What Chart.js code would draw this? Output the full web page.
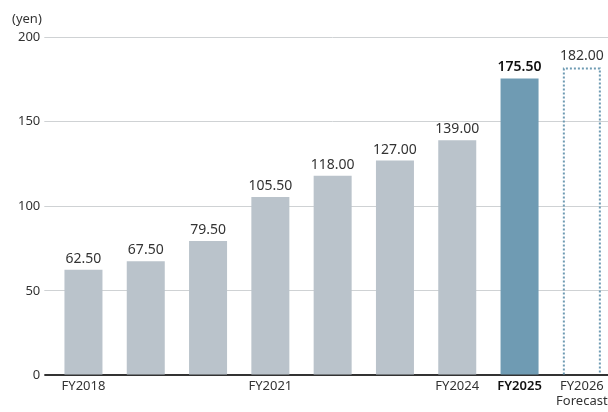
<!DOCTYPE html>
<html>
<head>
<meta charset="utf-8">
<script src="https://cdn.jsdelivr.net/npm/chart.js@4/dist/chart.umd.min.js"></script>
<style>
  html, body { margin: 0; padding: 0; background: #fff; overflow: hidden; }
  #wrap { width: 608px; height: 412px; overflow: hidden; }
</style>
</head>
<body>
<div id="wrap"><canvas id="chartDividend" width="615" height="412"></canvas></div>
<script>
const years = ['FY2018', '', '', 'FY2021', '', '', 'FY2024', 'FY2025', ['FY2026', 'Forecast']];
const dividends = [62.5, 67.5, 79.5, 105.5, 118.0, 127.0, 139.0, 175.5, 182.0];
const yTicks = [0, 50, 100, 150, 200];
const unitLabel = '(yen)';

const barColors = ['#bac3cb', '#bac3cb', '#bac3cb', '#bac3cb', '#bac3cb', '#bac3cb', '#bac3cb', '#6f9bb3', 'rgba(0,0,0,0)'];

// labels above bars + dotted forecast bar + unit text
const extras = {
    id: 'extras',
    afterDatasetsDraw(chart) {
        const ctx = chart.ctx;
        const meta = chart.getDatasetMeta(0);
        ctx.save();

        // dotted outline of forecast bar
        const fb = meta.data[8];
        const l = fb.x - fb.width / 2, r = fb.x + fb.width / 2;
        ctx.strokeStyle = '#6f9bb3';
        ctx.lineWidth = 2;
        ctx.setLineDash([2, 2]);
        ctx.beginPath();
        ctx.moveTo(l + 1, fb.base);
        ctx.lineTo(l + 1, fb.y + 1);
        ctx.lineTo(r - 1, fb.y + 1);
        ctx.lineTo(r - 1, fb.base);
        ctx.stroke();
        ctx.setLineDash([]);

        ctx.textAlign = 'center';
        ctx.textBaseline = 'bottom';
        meta.data.forEach((bar, i) => {
            ctx.font = (i === 7 ? '600 ' : '') + '14px "Noto Sans"';
            ctx.fillStyle = i === 7 ? '#111' : '#333';
            ctx.fillText(dividends[i].toFixed(2), bar.x, bar.y - 4);
        });

        const ys = chart.scales.y;
        ctx.font = '13px "Noto Sans"';
        ctx.fillStyle = '#333';
        ctx.textAlign = 'left';
        ctx.textBaseline = 'alphabetic';
        ctx.fillText(unitLabel, 12, ys.top - 14);
        ctx.restore();
    }
};

new Chart(document.getElementById('chartDividend').getContext('2d'), {
    type: 'bar',
    data: {
        labels: years,
        datasets: [{
            data: dividends,
            backgroundColor: barColors,
            borderWidth: 0,
            barPercentage: 1,
            categoryPercentage: 0.61
        }]
    },
    options: {
        responsive: false,
        animation: false,
        layout: { padding: { top: 37, left: 14, right: 2, bottom: 0 } },
        plugins: {
            legend: { display: false },
            tooltip: { enabled: false },
            title: { display: false }
        },
        scales: {
            x: {
                offset: true,
                grid: { display: false, drawTicks: false },
                border: { display: false },
                ticks: {
                    padding: 4,
                    maxRotation: 0,
                    autoSkip: false,
                    color: (c) => c.index === 7 ? '#111' : '#333',
                    font: (c) => ({ family: 'Noto Sans', size: 13, weight: c.index === 7 ? '600' : 'normal', lineHeight: 1.1 })
                }
            },
            y: {
                min: 0,
                max: 200,
                afterBuildTicks: (axis) => { axis.ticks = yTicks.map(v => ({ value: v })); },
                border: { display: false },
                grid: {
                    drawTicks: true,
                    tickLength: 8,
                    color: (c) => c.tick && c.tick.value === 0 ? '#333' : '#cfd2d4',
                    lineWidth: (c) => c.tick && c.tick.value === 0 ? 2 : 1
                },
                ticks: {
                    padding: 4,
                    color: '#333',
                    font: { family: 'Noto Sans', size: 13 }
                }
            }
        }
    },
    plugins: [extras]
});
</script>
</body>
</html>
